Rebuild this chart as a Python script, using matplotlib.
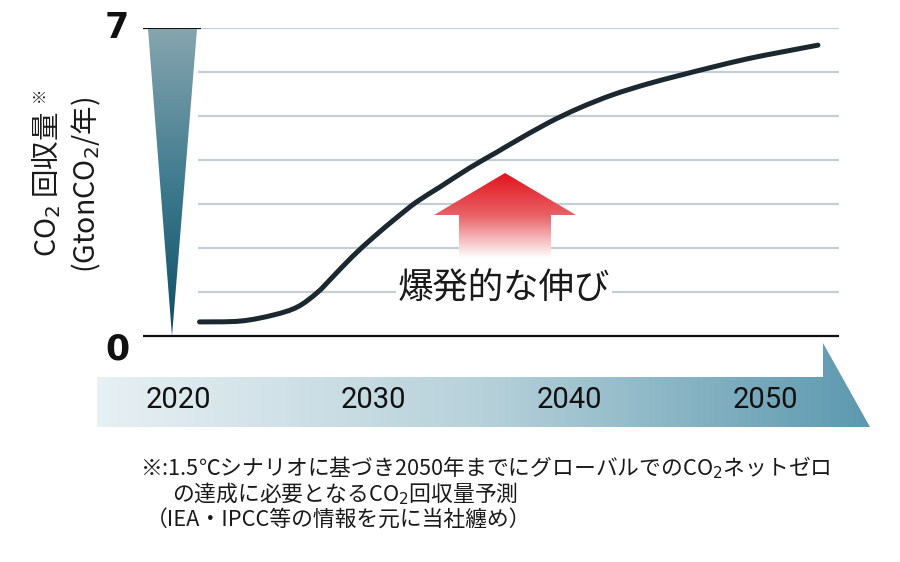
import numpy as np
import matplotlib
matplotlib.use("Agg")
import matplotlib.pyplot as plt
import matplotlib.transforms as mtrans
from matplotlib.patches import Polygon, PathPatch
from matplotlib.path import Path
from matplotlib.colors import LinearSegmentedColormap

plt.rcParams['font.family'] = ['Noto Sans CJK JP', 'DejaVu Sans']

# ---- data ----
years = [2021.1, 2023.2, 2024.9, 2026.1, 2027.1, 2027.9, 2028.9, 2030.0, 2031.2,
         2032.2, 2033.4, 2034.9, 2036.3, 2037.1, 2038.9, 2040.5, 2042.2, 2044.0,
         2045.7, 2047.3, 2049.1, 2050.8, 2052.7]
capture = [0.32, 0.34, 0.48, 0.66, 0.98, 1.34, 1.80, 2.25, 2.70, 3.05, 3.39, 3.82,
           4.18, 4.39, 4.84, 5.18, 5.48, 5.73, 5.93, 6.11, 6.30, 6.45, 6.61]
tick_years = [2020, 2030, 2040, 2050]
y_ticks = [0, 7]
grid_levels = [1, 2, 3, 4, 5, 6, 7]

ylabel1 = "CO$_2$ 回収量"
ylabel2 = "(GtonCO$_2$/年)"
callout = "爆発的な伸び"
notes = ["※:1.5℃シナリオに基づき2050年までにグローバルでのCO$_2$ネットゼロ",
         "の達成に必要となるCO$_2$回収量予測",
         "（IEA・IPCC等の情報を元に当社纏め）"]

# ---- layout ----
W, H = 900, 562
fig = plt.figure(figsize=(9, 5.62), dpi=100)

px_year0, px_per_year = 178.0, 19.57
def px2year(px):
    return 2020 + (px - px_year0) / px_per_year

ax_l, ax_r, ax_t, ax_b = 143, 839, 28, 336
ax = fig.add_axes([ax_l / W, 1 - ax_b / H, (ax_r - ax_l) / W, (ax_b - ax_t) / H], zorder=1)
ax.patch.set_alpha(0)
ax.set_xlim(px2year(ax_l), px2year(ax_r))
ax.set_ylim(0, 7)
for s in ax.spines.values():
    s.set_visible(False)
ax.set_xticks([]); ax.set_yticks([])

ax.hlines(grid_levels, px2year(198), px2year(ax_r), color='#c3ced6', lw=1.6, zorder=1)
ax.hlines(7, px2year(ax_l), px2year(201), color='#111111', lw=1.6, zorder=2)
ax.hlines(0, px2year(ax_l), px2year(ax_r), color='#111111', lw=1.6, zorder=2, clip_on=False)

# smooth curve through the data points (Catmull-Rom drawn as cubic Bezier)
P = np.column_stack([years, capture])
n = len(P)
verts = [P[0]]
codes = [Path.MOVETO]
for i in range(n - 1):
    p0 = P[i - 1] if i > 0 else P[i]
    p1 = P[i]
    p2 = P[i + 1]
    p3 = P[i + 2] if i + 2 < n else P[i + 1]
    verts += [p1 + (p2 - p0) / 6, p2 - (p3 - p1) / 6, p2]
    codes += [Path.CURVE4] * 3
ax.add_patch(PathPatch(Path(verts, codes), fill=False, edgecolor='#1b2830', lw=3.6,
                       capstyle='round', joinstyle='round', zorder=3))

# y tick labels
ytr = mtrans.blended_transform_factory(fig.transFigure, ax.transData)
for v in y_ticks:
    off = mtrans.ScaledTranslation(0, (-14 if v == 0 else 0) / 100, fig.dpi_scale_trans)
    ax.text(117 / W, v, str(v), transform=ytr + off, ha='center', va='center',
            fontsize=25, fontweight='bold', color='#111111', family='DejaVu Sans')

# ---- decorations (pixel coordinates) ----
deco = fig.add_axes([0, 0, 1, 1], zorder=2)
deco.patch.set_alpha(0)
deco.axis('off')

def grad_fill(pts, colors, direction, extent):
    cmap = LinearSegmentedColormap.from_list('g', colors)
    m = 256
    if direction == 'h':
        data = np.linspace(0, 1, m)[None, :]
    else:
        data = np.linspace(0, 1, m)[:, None]
    poly = Polygon(pts, closed=True, facecolor='none', edgecolor='none')
    deco.add_patch(poly)
    im = deco.imshow(data, cmap=cmap, extent=extent, aspect='auto', origin='upper',
                     interpolation='bilinear')
    im.set_clip_path(poly)

# y-axis wedge
grad_fill([(148, 29), (197, 29), (172, 336)], ['#86a5ae', '#3f7b8f', '#0d4d64'], 'v',
          (148, 197, 336, 29))
# timeline band
grad_fill([(97, 377), (823, 377), (823, 343), (870, 427), (97, 427)],
          ['#e7f0f3', '#b7d1da', '#5d99af'], 'h', (97, 870, 427, 343))
# red arrow
grad_fill([(505, 173), (576, 215), (551, 215), (551, 258), (459, 258), (459, 215), (434, 215)],
          [(0, '#e1141c'), (0.5, '#e96268'), (1, '#ffffff')], 'v', (434, 576, 258, 173))

deco.set_xlim(0, W)
deco.set_ylim(H, 0)

# x tick labels on band (figure-level text, drawn above the band)
xtr = mtrans.blended_transform_factory(ax.transData, fig.transFigure)
for yr in tick_years:
    fig.text(yr, 1 - 400 / H, str(yr), transform=xtr, ha='center', va='center',
             fontsize=21, color='#111111', family=['Roboto', 'DejaVu Sans'], zorder=5)

# ---- texts ----
fig.text(504 / W, 1 - 289 / H, callout, ha='center', va='center', fontsize=25.5,
         color='#1a1a1a', zorder=5,
         bbox=dict(facecolor='white', edgecolor='none', pad=1))

fig.text(46 / W, 1 - 184 / H, ylabel1, rotation=90, ha='center', va='center',
         fontsize=20.5, color='#1a1a1a')
fig.text(39 / W, 1 - 94 / H, "※", rotation=90, ha='center', va='center',
         fontsize=11, color='#1a1a1a')
fig.text(86 / W, 1 - 185 / H, ylabel2, rotation=90, ha='center', va='center',
         fontsize=20.5, color='#1a1a1a')

note_pos = [(140, 468), (172, 494), (146, 520)]
for (x, y), t in zip(note_pos, notes):
    fig.text(x / W, 1 - y / H, t, ha='left', va='center', fontsize=15.7, color='#1a1a1a')

fig.savefig('out.png', dpi=100)
